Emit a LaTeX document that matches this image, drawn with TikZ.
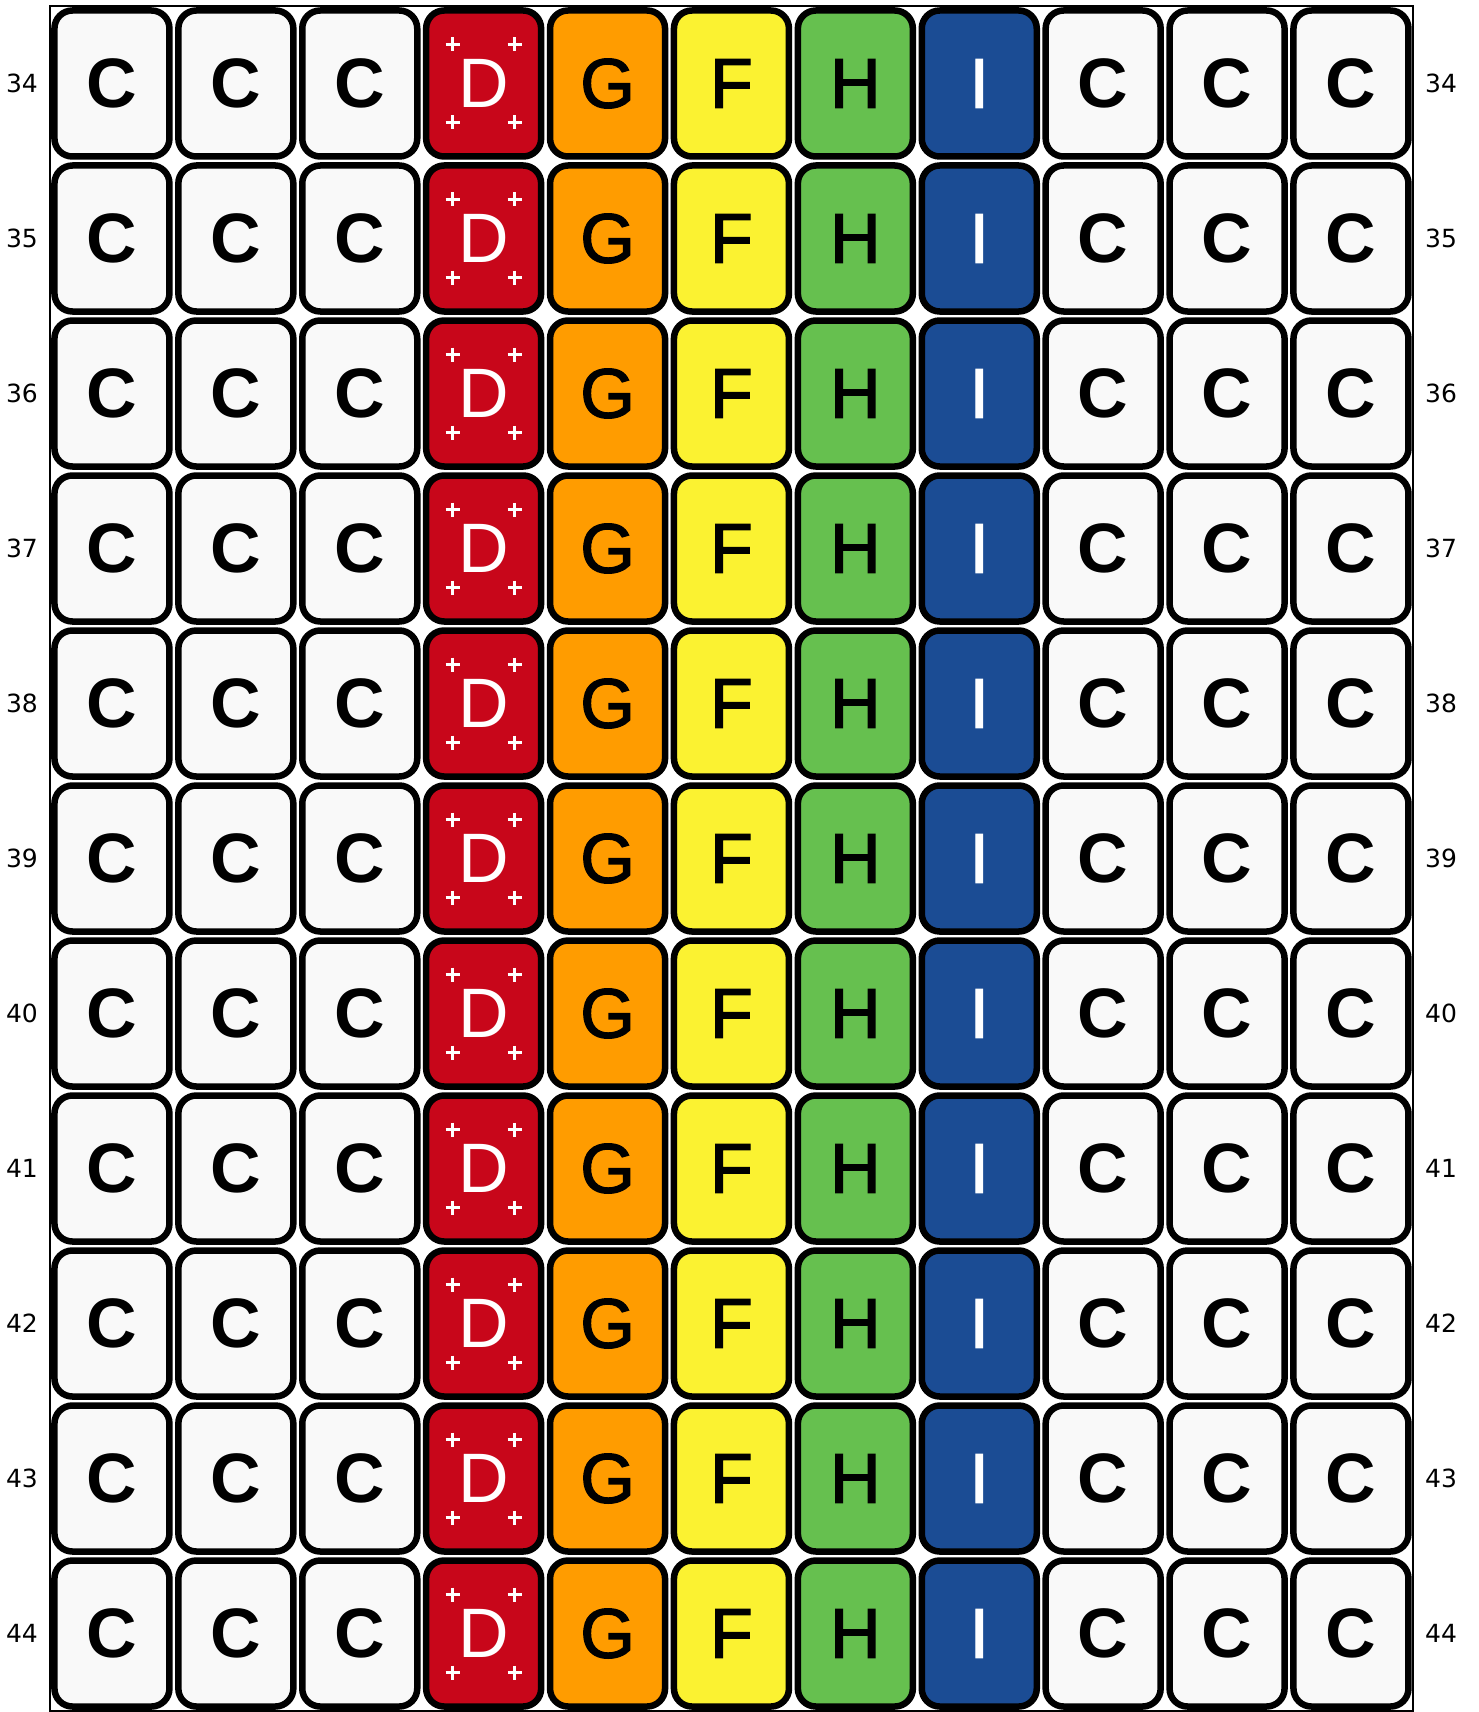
\documentclass[tikz,border=0pt]{standalone}
\usepackage{fontspec}
\setmainfont{Liberation Sans}
\newfontfamily\labelfont{DejaVu Sans}
\newfontfamily\tilefont{Liberation Sans}[FakeBold=2]
\definecolor{paleC}{HTML}{F9F9F9}
\definecolor{redD}{HTML}{C8061A}
\definecolor{orangeG}{HTML}{FF9C00}
\definecolor{yellowF}{HTML}{FBF231}
\definecolor{greenH}{HTML}{66C04F}
\definecolor{blueI}{HTML}{1B4C94}

\begin{document}
\begin{tikzpicture}[x=1pt, y=-1pt,
    cell/.style={draw=black, line width=6.5pt, rounded corners=18pt, minimum width=115pt, minimum height=146pt, inner sep=0pt, font=\tilefont\fontsize{70}{70}\selectfont},
    cCell/.style={cell, fill=paleC, font=\fontsize{70}{70}\selectfont\bfseries},
    dCell/.style={cell, fill=redD, text=white, font=\fontsize{70}{70}\selectfont},
    gCell/.style={cell, fill=orangeG},
    fCell/.style={cell, fill=yellowF},
    hCell/.style={cell, fill=greenH},
    iCell/.style={cell, fill=blueI, text=white},
    spark/.style={draw=white, line width=2.6pt},
    rowlabel/.style={font=\labelfont\fontsize{25}{25}\selectfont},
    frame/.style={draw=black, line width=1.5pt}
]
\useasboundingbox (0,0) rectangle (1478,1712);

\draw[frame] (50,6) rectangle (1413,1711);

\foreach \r [count=\j from 0] in {34,...,44} {
    \node[rowlabel] (ll\r) at (22, 83.5+155*\j) {\r};
    \node[rowlabel] (rl\r) at (1441, 83.5+155*\j) {\r};
    \foreach \ltr/\kind [count=\i from 0] in {C/cCell,C/cCell,C/cCell,D/dCell,G/gCell,F/fCell,H/hCell,I/iCell,C/cCell,C/cCell,C/cCell} {
        \node[\kind] (cell-\r-\i) at (111.95+123.9*\i, 83.5+155*\j) {\ltr};
    }
    % little crosses on the D tiles
    \foreach \sx in {-31,31}
        \foreach \sy in {-39,39}
            \draw[spark] ([shift={(\sx-7,\sy)}]cell-\r-3.center) -- ++(14,0)
                ([shift={(\sx,\sy-7)}]cell-\r-3.center) -- ++(0,14);
}

\end{tikzpicture}
\end{document}
